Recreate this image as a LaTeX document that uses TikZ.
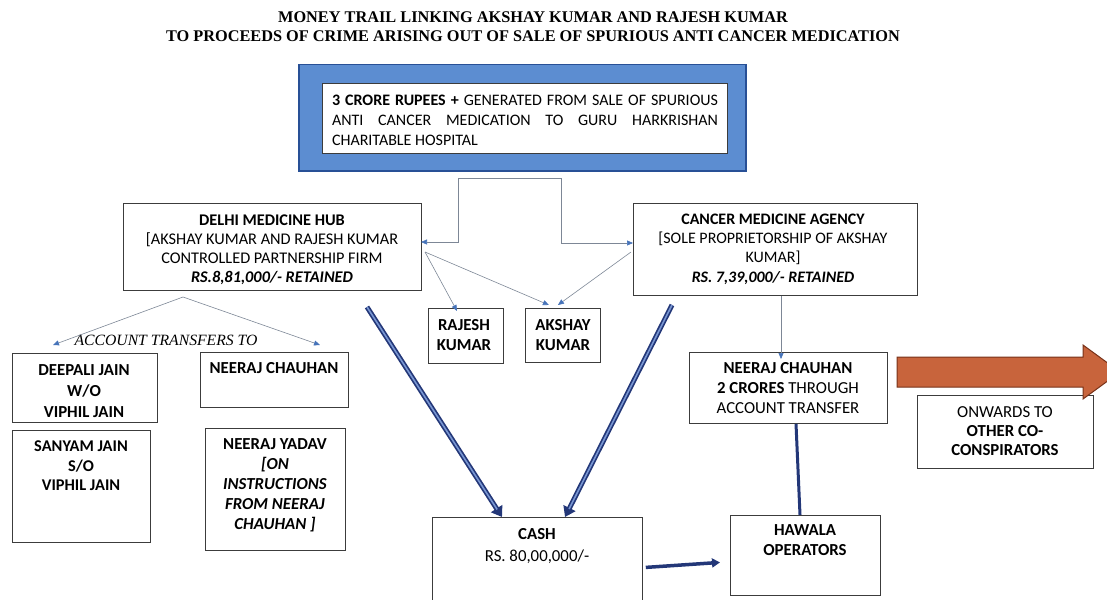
\documentclass[tikz,border=0pt]{standalone}
\usepackage{fontspec}
\setmainfont{Carlito}
\newfontfamily\serif{Liberation Serif}
\usetikzlibrary{arrows.meta,calc}
\definecolor{boxgray}{RGB}{60,60,60}
\definecolor{linegray}{RGB}{125,135,150}
\definecolor{tipblue}{RGB}{70,115,185}
\definecolor{navy}{RGB}{35,55,120}
\definecolor{lightnavy}{RGB}{120,150,210}
\definecolor{bluefill}{RGB}{92,141,209}
\definecolor{blueedge}{RGB}{40,80,150}
\definecolor{orangefill}{RGB}{200,100,60}
\definecolor{orangeedge}{RGB}{120,50,25}
\tikzset{
  box/.style={draw=boxgray, line width=0.8pt, fill=white, inner sep=0pt},
  txt/.style={align=center, font=\fontsize{16.8}{20}\selectfont, inner sep=0pt},
  btxt/.style={txt, font=\bfseries\fontsize{16.8}{20}\selectfont},
  conn/.style={draw=linegray, line width=0.6pt},
  conna/.style={conn, -{Triangle[length=6pt,width=5pt,color=tipblue]}},
  bigarrow/.style={draw=navy, line width=5pt, -{Triangle[length=10pt,width=13pt]}},
  biginner/.style={draw=lightnavy, line width=1.6pt, shorten >=9pt},
}
\newcommand{\bx}[5]{\node[box, anchor=north west, minimum width={(#4-#2)*1pt}, minimum height={(#5-#3)*1pt}] (#1) at (#2,#3) {};}
\begin{document}
\begin{tikzpicture}[x=1pt,y=-1pt]
\useasboundingbox (0,0) rectangle (1107,599);
% title
\node[align=center, inner sep=0pt, font=\serif\bfseries\fontsize{16.3}{19}\selectfont] (title) at (533,26.5)
  {MONEY TRAIL LINKING AKSHAY KUMAR AND RAJESH KUMAR\\TO PROCEEDS OF CRIME ARISING OUT OF SALE OF SPURIOUS ANTI CANCER MEDICATION};
% top blue box
\node[draw=blueedge, line width=1.5pt, fill=bluefill, anchor=north west, minimum width=447pt, minimum height=106pt, inner sep=0pt] (topouter) at (298,64) {};
\bx{topinner}{322}{83}{727}{153}
\node[inner sep=0pt, font=\fontsize{16}{20}\selectfont] (toptext) at (525,120)
  {\parbox{386pt}{\noindent\textbf{3 CRORE RUPEES +} GENERATED FROM SALE OF SPURIOUS\linebreak ANTI CANCER MEDICATION TO GURU HARKRISHAN\linebreak CHARITABLE HOSPITAL}};
% boxes
\bx{dmh}{123}{203}{421}{290}
\bx{cma}{633}{203}{917}{295}
\bx{rajesh}{428}{308}{503}{363}
\bx{akshay}{525}{308}{600}{362}
\bx{deepali}{12}{353}{157}{422}
\bx{sanyam}{12}{430}{150}{542}
\bx{nchl}{200}{352}{348}{407}
\bx{yadav}{205}{428}{345}{550}
\bx{cash}{432}{517}{642}{605}
\bx{hawala}{730}{515}{880}{595}
\bx{nchr}{689}{352}{887}{423}
\bx{onwards}{917}{395}{1093}{468}
% texts
\node[txt, font=\fontsize{16.3}{19}\selectfont] (dmht) at (272,250) {\textbf{DELHI MEDICINE HUB}\\{[}AKSHAY KUMAR AND RAJESH KUMAR\\CONTROLLED PARTNERSHIP FIRM\\\textbf{\textit{RS.8,81,000/- RETAINED}}};
\node[txt, font=\fontsize{16}{19.3}\selectfont] (cmat) at (773,249) {\textbf{CANCER MEDICINE AGENCY}\\{[}SOLE PROPRIETORSHIP OF AKSHAY\\KUMAR]\\\textbf{\textit{RS. 7,39,000/- RETAINED}}};
\node[btxt] (rajesht) at (464,335) {RAJESH\\KUMAR};
\node[btxt] (akshayt) at (563,335) {AKSHAY\\KUMAR};
\node[btxt, font=\bfseries\fontsize{16.8}{21}\selectfont] (deepalit) at (84,391) {DEEPALI JAIN\\W/O\\VIPHIL JAIN};
\node[btxt, font=\bfseries\fontsize{16.4}{19.5}\selectfont] (sanyamt) at (81,466) {SANYAM JAIN\\S/O\\VIPHIL JAIN};
\node[btxt] (nchlt) at (274,368) {NEERAJ CHAUHAN};
\node[btxt] (yadavt) at (275,485) {NEERAJ YADAV\\\textit{{[}ON}\\\textit{INSTRUCTIONS}\\\textit{FROM NEERAJ}\\\textit{CHAUHAN ]}};
\node[txt, font=\fontsize{16.8}{22}\selectfont] (casht) at (537,546) {\textbf{CASH}\\RS. 80,00,000/-};
\node[btxt] (hawalat) at (805,540) {HAWALA\\OPERATORS};
\node[txt] (nchrt) at (788,388) {\textbf{NEERAJ CHAUHAN}\\\textbf{2 CRORES} THROUGH\\ACCOUNT TRANSFER};
\node[txt, font=\fontsize{16.8}{19}\selectfont] (onwardst) at (1005,431) {ONWARDS TO\\\textbf{OTHER CO-}\\\textbf{CONSPIRATORS}};
\node[inner sep=0pt, font=\serif\itshape\fontsize{15.7}{16}\selectfont] (acct) at (166,340) {ACCOUNT TRANSFERS TO};
% bracket connector
\coordinate (bl) at (458,178);
\coordinate (br) at (561,178);
\coordinate (dmhin) at (421,242);
\coordinate (cmain) at (633,243);
\draw[conn] (bl) -- (br);
\draw[conna] (bl) |- (dmhin);
\draw[conna] (br) |- (cmain);
% fan-out arrows
\coordinate (dmhr) at (425,252);
\coordinate (cmal) at (631,252);
\draw[conna] (dmhr) -- ([yshift=-3pt]rajesh.north -| 457,0);
\draw[conna] (dmhr) -- ($(akshay.north)+(-14,-3)$);
\draw[conna] (cmal) -- ($(akshay.north)+(-5,-3)$);
\coordinate (dmhb) at (183,297);
\coordinate (deepin) at (53,345);
\coordinate (nchin) at (320,345);
\draw[conna] (dmhb) -- (deepin);
\draw[conna] (dmhb) -- (nchin);
\draw[conna] (cma.south -| 781,0) -- ([yshift=-7pt]nchr.north -| 781,0);
% thick arrows to cash
\coordinate (s1) at (367,307);
\coordinate (s2) at (672,305);
\draw[bigarrow] (s1) -- (cash.north -| 502,0);
\draw[biginner] (s1) -- (cash.north -| 502,0);
\draw[bigarrow] (s2) -- (cash.north -| 565,0);
\draw[biginner] (s2) -- (cash.north -| 565,0);
% cash -> hawala
\draw[draw=navy, line width=3.5pt, -{Triangle[length=8pt,width=9pt]}] ($(cash.east)+(3,6)$) -- ($(hawala.west)+(-10,7)$);
% hawala -- nchr
\draw[draw=navy, line width=3pt] (hawala.north -| 800,0) -- (nchr.south -| 796,0);
% orange arrow
\coordinate (ob1) at (897,357);
\draw[draw=orangeedge, line width=1pt, fill=orangefill] (ob1) -- (1083,357) -- (1083,345) -- (1120,372) -- (1083,399) -- (1083,387) -- (897,387) -- cycle;
\end{tikzpicture}
\end{document}
